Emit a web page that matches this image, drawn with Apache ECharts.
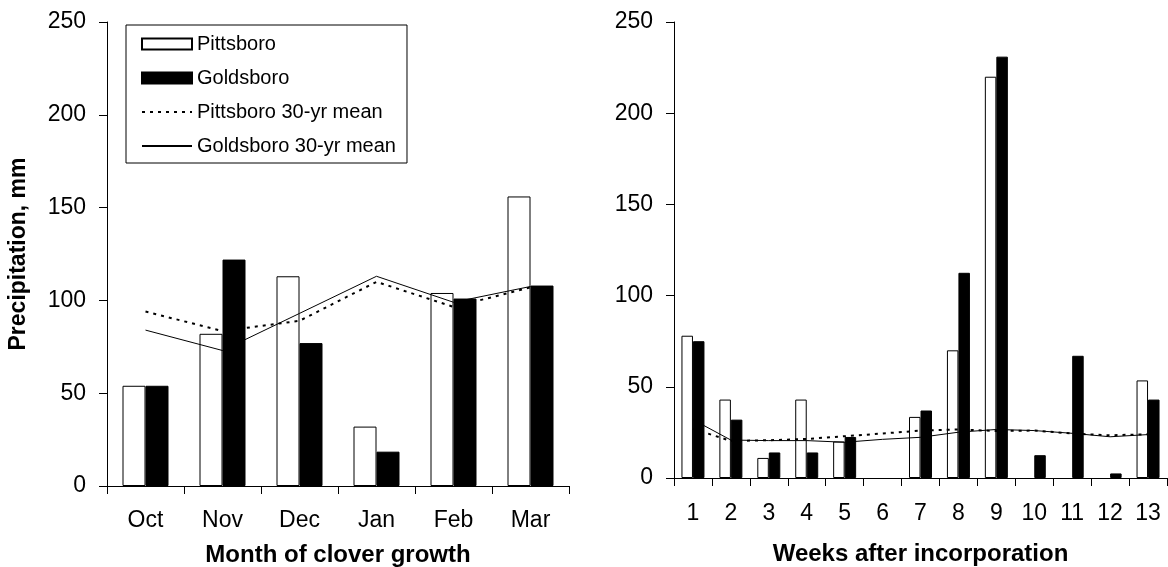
<!DOCTYPE html>
<html>
<head>
<meta charset="utf-8">
<script src="https://cdn.jsdelivr.net/npm/echarts@6/dist/echarts.min.js"></script>
<style>
  html, body { margin: 0; background: #fff; }
  #chart { width: 1168px; height: 567px; }
</style>
</head>
<body>
<div id="chart"></div>
<script>
// left panel: monthly precipitation (mm)
const months = ['Oct', 'Nov', 'Dec', 'Jan', 'Feb', 'Mar']
const monthPitt = [54, 82, 113, 32, 104, 156]
const monthGold = [54, 122, 77, 18.5, 101, 108]
const monthPittMean = [94, 83.5, 89, 110, 96.5, 107]
const monthGoldMean = [84, 73, 93, 113, 99, 107.5]

// right panel: weekly precipitation (mm), 0 = no bar drawn
const weeks = ['1', '2', '3', '4', '5', '6', '7', '8', '9', '10', '11', '12', '13']
const weekPitt = [78, 43, 11, 43, 20, 0, 33.5, 70, 220, 0, 0, 0, 53.5]
const weekGold = [75, 32, 14, 14, 22.5, 0, 37, 112.5, 231, 12.5, 67, 2.5, 43]
const weekPittMean = [27, 20.3, 20.7, 21.4, 22.9, 24.4, 26, 26.6, 25.8, 26, 24.4, 23.4, 24]
const weekGoldMean = [32, 20.8, 20.5, 20.5, 19.6, 21.2, 22.3, 25.1, 26.6, 26, 24.5, 22.6, 23.8]

const yMin = 0, yMax = 250, yStep = 50

const FONT = 'Liberation Sans, Arial, sans-serif'
const black = '#000'

// empty weeks have no bar at all in the original
const noZero = arr => arr.map(v => (v === 0 ? '-' : v))

function xAxisOf(grid, cats, title, labelGap, gap) {
  return {
    type: 'category', gridIndex: grid, data: cats,
    axisLine: { lineStyle: { color: black, width: 1 } },
    axisTick: { show: true, length: 8, lineStyle: { color: black } },
    axisLabel: { color: black, fontSize: 23, fontFamily: FONT, margin: labelGap, interval: 0 },
    name: title, nameLocation: 'middle', nameGap: gap,
    nameTextStyle: { color: black, fontSize: 24, fontWeight: 'bold', fontFamily: FONT }
  }
}

function yAxisOf(grid, title) {
  return {
    type: 'value', gridIndex: grid, min: yMin, max: yMax, interval: yStep,
    splitLine: { show: false },
    axisLine: { show: true, lineStyle: { color: black, width: 1 } },
    axisTick: { show: true, length: 8, lineStyle: { color: black } },
    axisLabel: { color: black, fontSize: 23, fontFamily: FONT, margin: 21 },
    name: title, nameLocation: 'middle', nameGap: 77,
    nameTextStyle: { color: black, fontSize: 23, fontWeight: 'bold', fontFamily: FONT }
  }
}

function panel(idx, pitt, gold, pittMean, goldMean, barW) {
  return [
    { name: 'Pittsboro', type: 'bar', xAxisIndex: idx, yAxisIndex: idx, data: noZero(pitt),
      barWidth: barW, barGap: '0%', z: 1,
      itemStyle: { color: '#fff', borderColor: black, borderWidth: 1 } },
    { name: 'Pittsboro 30-yr mean', type: 'line', xAxisIndex: idx, yAxisIndex: idx, data: pittMean,
      symbol: 'none', z: 2, lineStyle: { color: black, width: 2, type: [3, 5] }, itemStyle: { color: black } },
    { name: 'Goldsboro 30-yr mean', type: 'line', xAxisIndex: idx, yAxisIndex: idx, data: goldMean,
      symbol: 'none', z: 2, lineStyle: { color: black, width: 1 }, itemStyle: { color: black } },
    { name: 'Goldsboro', type: 'bar', xAxisIndex: idx, yAxisIndex: idx, data: noZero(gold),
      barWidth: barW, barGap: '0%', z: 3,
      itemStyle: { color: black, borderColor: black, borderWidth: 1 } }
  ]
}

const chart = echarts.init(document.getElementById('chart'))
chart.setOption({
  animation: false,
  backgroundColor: '#fff',
  grid: [
    { left: 107, right: 599, top: 22, bottom: 81, outerBoundsMode: 'none' },
    { left: 674, right: 1, top: 22, bottom: 89, outerBoundsMode: 'none' }
  ],
  legend: {
    orient: 'vertical', left: 126, top: 25,
    padding: [9, 11, 7, 15], itemGap: 14, itemWidth: 50, itemHeight: 11,
    backgroundColor: '#fff', borderColor: black, borderWidth: 1, borderRadius: 0,
    textStyle: { color: black, fontSize: 20, fontFamily: FONT },
    data: [
      { name: 'Pittsboro', icon: 'rect' },
      { name: 'Goldsboro', icon: 'rect' },
      // hide the marker dot, keep only the line
      { name: 'Pittsboro 30-yr mean', itemStyle: { opacity: 0 } },
      { name: 'Goldsboro 30-yr mean', itemStyle: { opacity: 0 } }
    ]
  },
  xAxis: [
    xAxisOf(0, months, 'Month of clover growth', 23, 57),
    xAxisOf(1, weeks, 'Weeks after incorporation', 24, 64)
  ],
  yAxis: [
    yAxisOf(0, 'Precipitation, mm'),
    yAxisOf(1, '')
  ],
  series: [
    ...panel(0, monthPitt, monthGold, monthPittMean, monthGoldMean, 23),
    ...panel(1, weekPitt, weekGold, weekPittMean, weekGoldMean, 11.5)
  ]
})
</script>
</body>
</html>
